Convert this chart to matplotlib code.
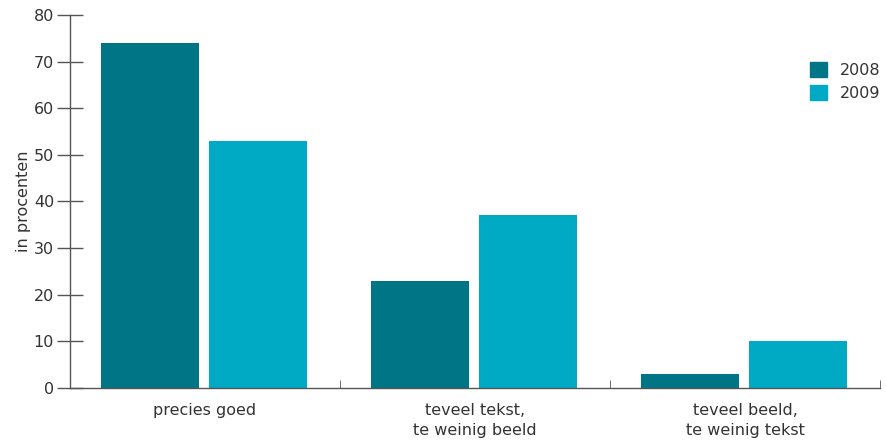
import numpy as np
import matplotlib.pyplot as plt
from matplotlib.patches import Patch

plt.rcParams["font.family"] = ["DejaVu Sans"]

categories = ["precies goed", "teveel tekst,\nte weinig beeld", "teveel beeld,\nte weinig tekst"]
years = ["2008", "2009"]
values_2008 = [74, 23, 3]
values_2009 = [53, 37, 10]

col_2008 = "#007585"
col_2009 = "#00aac5"
txt = "#333333"
axcol = "#555555"

fig = plt.figure(figsize=(8.86, 4.41), dpi=100)
ax = fig.add_axes([70 / 886, 53.3 / 441, 810 / 886, 372.7 / 441])

x = np.arange(len(categories))
w = 0.363
ax.bar(x - 0.203, values_2008, width=w, color=col_2008, label=years[0])
ax.bar(x + 0.196, values_2009, width=w, color=col_2009, label=years[1])

ax.set_xlim(-0.5, 2.5)
ax.set_ylim(0, 80)
ax.set_yticks(range(0, 81, 10))
ax.tick_params(axis="y", direction="inout", length=19, width=1, color=axcol,
               labelsize=11.5, labelcolor=txt, pad=2)
ax.set_xticks(x)
ax.set_xticklabels(categories, fontsize=11.5, color=txt, linespacing=1.4)
ax.tick_params(axis="x", length=0, pad=11)
ax.set_xticks([0.5, 1.5, 2.5], minor=True)
ax.tick_params(axis="x", which="minor", direction="in", length=6, color=axcol)

for s in ["top", "right"]:
    ax.spines[s].set_visible(False)
for s in ["left", "bottom"]:
    ax.spines[s].set_color(axcol)
    ax.spines[s].set_linewidth(1)

ax.set_ylabel("in procenten", fontsize=11.5, color=txt, labelpad=2)

handles = [Patch(color=col_2008), Patch(color=col_2009)]
leg = fig.legend(handles, years, loc="upper left", bbox_to_anchor=(804 / 886, 1 - 56 / 441),
                 frameon=False, fontsize=11.5, handlelength=1.05, handleheight=1.05,
                 handletextpad=0.8, labelspacing=0.45, borderaxespad=0)
for t in leg.get_texts():
    t.set_color(txt)

fig.savefig("out.png", dpi=100)
